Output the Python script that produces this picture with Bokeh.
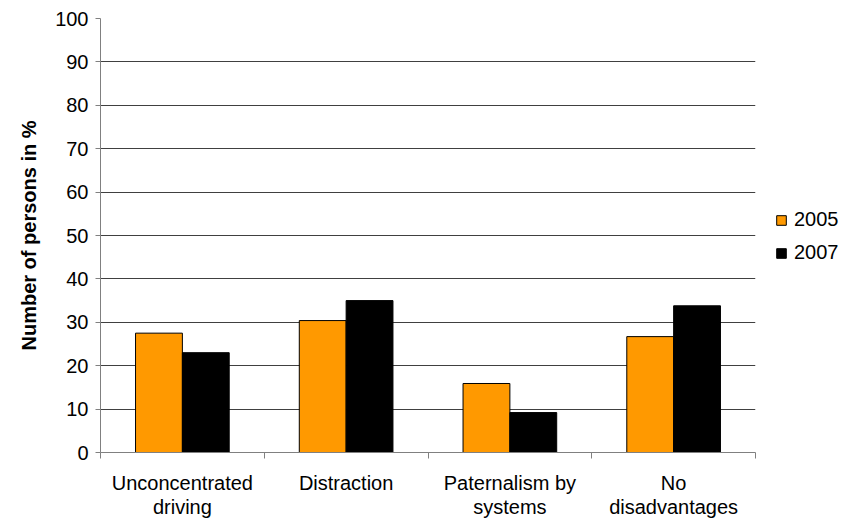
from bokeh.plotting import figure
from bokeh.models import (FactorRange, Range1d, LinearAxis, CategoricalAxis, FixedTicker,
                          Legend, LegendItem, ColumnDataSource, CustomLabelingPolicy)
from bokeh.transform import dodge
from bokeh.embed import file_html
from bokeh.resources import INLINE

# ---- data ----
categories = ["Unconcentrated\ndriving", "Distraction", "Paternalism by\nsystems", "No\ndisadvantages"]
series_names = ["2005", "2007"]
values_2005 = [27.5, 30.4, 15.9, 26.7]
values_2007 = [23.0, 35.0, 9.2, 33.8]
y_ticks = [0, 10, 20, 30, 40, 50, 60, 70, 80, 90, 100]
y_label = "Number of persons in %"

FONT = "Liberation Sans"
FS = "20px"

src = ColumnDataSource(data=dict(cat=categories, v05=values_2005, v07=values_2007))

p = figure(x_range=FactorRange(*categories, range_padding=0, factor_padding=0),
           y_range=Range1d(0, 100),
           frame_width=655, frame_height=434,
           min_border_left=100, min_border_right=96, min_border_top=18, min_border_bottom=68,
           x_axis_location=None,
           output_backend="svg", toolbar_location=None,
           outline_line_color=None, background_fill_color="white", border_fill_color="white")

# y axis
ya = p.yaxis[0]
ya.ticker = FixedTicker(ticks=y_ticks)
ya.axis_line_color = "#808080"
ya.major_tick_line_color = "#808080"
ya.major_tick_out = 5
ya.major_tick_in = 0
ya.minor_tick_out = 0
ya.minor_tick_in = 0
ya.major_label_text_font = FONT
ya.major_label_text_font_size = FS
ya.major_label_text_color = "black"
ya.major_label_standoff = 7
ya.axis_label = y_label
ya.axis_label_text_font = FONT
ya.axis_label_text_font_size = FS
ya.axis_label_text_font_style = "bold"
ya.axis_label_text_color = "black"
ya.axis_label_standoff = 12

p.ygrid.ticker = FixedTicker(ticks=y_ticks)
p.ygrid.grid_line_color = "#404040"
p.ygrid.grid_line_width = 1
for g in p.xgrid:
    g.visible = False

# x axes: boundary ticks (synthetic category coordinates, no labels) + category labels
tick_axis = LinearAxis(ticker=FixedTicker(ticks=list(range(len(categories) + 1))),
                       major_label_policy=CustomLabelingPolicy(code="return new Set()"),
                       major_label_text_font_size="0px",
                       major_label_standoff=0,
                       major_tick_out=6, major_tick_in=0, minor_tick_out=0, minor_tick_in=0,
                       axis_line_color="#808080", major_tick_line_color="#808080")
p.add_layout(tick_axis, "below")

cat_axis = CategoricalAxis(axis_line_color=None, major_tick_line_color=None,
                           major_tick_out=0, major_tick_in=0,
                           major_label_standoff=13,
                           major_label_text_font=FONT, major_label_text_font_size=FS,
                           major_label_text_color="black", major_label_text_line_height=1.1)
p.add_layout(cat_axis, "below")

# bars
r1 = p.vbar(x=dodge("cat", -0.143, range=p.x_range), top="v05", width=0.286, source=src,
            fill_color="#FF9900", line_color="black", line_width=1)
r2 = p.vbar(x=dodge("cat", 0.143, range=p.x_range), top="v07", width=0.286, source=src,
            fill_color="#000000", line_color="black", line_width=1)

legend = Legend(items=[LegendItem(label=series_names[0], renderers=[r1]),
                       LegendItem(label=series_names[1], renderers=[r2])],
                location=(20, 188), orientation="vertical",
                glyph_width=12, glyph_height=12, label_standoff=7, spacing=10,
                padding=0, margin=0, border_line_color=None, background_fill_alpha=0,
                label_text_font=FONT, label_text_font_size=FS, label_text_color="black",
                label_height=12)
p.add_layout(legend, "right")

open("out.html", "w").write(file_html(p, INLINE))
